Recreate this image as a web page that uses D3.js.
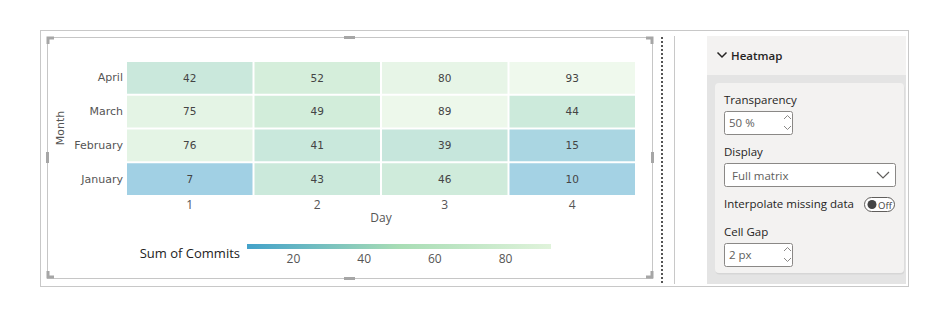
<!DOCTYPE html>
<html>
<head>
<meta charset="utf-8">
<script src="https://cdn.jsdelivr.net/npm/d3@7"></script>
<style>
  html, body { margin: 0; padding: 0; background: #ffffff; }
  svg { display: block; }
  .ui { font-family: "Segoe UI", "Open Sans", sans-serif; }
</style>
</head>
<body>
<svg id="chart" width="952" height="321"></svg>
<script>
// ---------- data ----------
const days = [1, 2, 3, 4];
const months = ["April", "March", "February", "January"]; // top to bottom
// commits per month, one value per day
const januaryCommits  = [7, 43, 46, 10];
const februaryCommits = [76, 41, 39, 15];
const marchCommits    = [75, 49, 89, 44];
const aprilCommits    = [42, 52, 80, 93];
const commitsByMonth = { January: januaryCommits, February: februaryCommits, March: marchCommits, April: aprilCommits };
const legendTicks = [20, 40, 60, 80];
const colorStops = ["#43a2ca", "#a8ddb5", "#e0f3db"];
const legendTitle = "Sum of Commits";
const xTitle = "Day";
const yTitle = "Month";

const cells = [];
months.forEach(m => days.forEach((d, i) => cells.push({ month: m, day: d, value: commitsByMonth[m][i] })));

const svg = d3.select("#chart");
const uiFont = '"Segoe UI", "Open Sans", sans-serif';
const vFont = '"DejaVu Sans", Verdana, sans-serif';

// ---------- report frame ----------
svg.append("rect").attr("x", 40.5).attr("y", 30.5).attr("width", 868).attr("height", 256)
  .attr("fill", "#fff").attr("stroke", "#c8c8c8").attr("stroke-width", 1);

// visual frame
svg.append("rect").attr("x", 47.5).attr("y", 37.5).attr("width", 605).attr("height", 241)
  .attr("fill", "none").attr("stroke", "#c6c6c6").attr("stroke-width", 1);
const handle = "#a6a6a6";
function corner(x, y, sx, sy) {
  svg.append("path")
    .attr("d", `M${x},${y + sy * 6} L${x},${y} L${x + sx * 6},${y}`)
    .attr("fill", "none").attr("stroke", handle).attr("stroke-width", 3);
}
corner(48, 38, 1, 1);
corner(652, 38, -1, 1);
corner(48, 277, 1, -1);
corner(652, 277, -1, -1);
svg.append("rect").attr("x", 344).attr("y", 36).attr("width", 11).attr("height", 3).attr("fill", handle);
svg.append("rect").attr("x", 344).attr("y", 277).attr("width", 11).attr("height", 3).attr("fill", handle);
svg.append("rect").attr("x", 46).attr("y", 152).attr("width", 3).attr("height", 11).attr("fill", handle);
svg.append("rect").attr("x", 651).attr("y", 152).attr("width", 3).attr("height", 11).attr("fill", handle);

// dotted divider and solid divider
svg.append("line").attr("x1", 662).attr("x2", 662).attr("y1", 37).attr("y2", 283)
  .attr("stroke", "#555").attr("stroke-width", 2).attr("stroke-dasharray", "2,2");
svg.append("line").attr("x1", 674.5).attr("x2", 674.5).attr("y1", 36).attr("y2", 284)
  .attr("stroke", "#c8c8c8").attr("stroke-width", 1);

// ---------- heatmap ----------
const x = d3.scaleBand().domain(days).range([126, 636]);
const y = d3.scaleBand().domain(months).range([61, 196]);
const ext = d3.extent(cells, c => c.value);
const color = d3.scaleLinear().domain([ext[0], (ext[0] + ext[1]) / 2, ext[1]]).range(colorStops);

const g = svg.append("g");
g.selectAll("rect.cell").data(cells).join("rect").attr("class", "cell")
  .attr("x", c => x(c.day) + 1).attr("y", c => y(c.month) + 1)
  .attr("width", x.bandwidth() - 2).attr("height", y.bandwidth() - 2)
  .attr("fill", c => color(c.value)).attr("fill-opacity", 0.5);

g.selectAll("text.val").data(cells).join("text").attr("class", "val")
  .attr("x", c => x(c.day) + x.bandwidth() / 2)
  .attr("y", c => y(c.month) + y.bandwidth() / 2)
  .attr("dy", "0.35em").attr("text-anchor", "middle")
  .attr("font-family", vFont).attr("font-size", 10.5)
  .attr("fill", "#444").text(c => c.value);

// y axis labels
const yAxis = svg.append("g").attr("transform", "translate(126,0)")
  .call(d3.axisLeft(y).tickSize(0).tickPadding(3));
yAxis.select(".domain").remove();
yAxis.selectAll("text").attr("font-family", vFont).attr("font-size", 11).attr("fill", "#555");

// x axis labels
const xAxis = svg.append("g").attr("transform", "translate(0,196)")
  .call(d3.axisBottom(x).tickSize(0).tickPadding(4));
xAxis.select(".domain").remove();
xAxis.selectAll("text").attr("font-family", uiFont).attr("font-size", 12).attr("fill", "#555");

svg.append("text").attr("x", 381).attr("y", 222).attr("text-anchor", "middle")
  .attr("font-family", uiFont).attr("font-size", 12).attr("fill", "#555").text(xTitle);
svg.append("text").attr("transform", "translate(64,128) rotate(-90)").attr("text-anchor", "middle")
  .attr("font-family", vFont).attr("font-size", 11).attr("fill", "#555").text(yTitle);

// ---------- legend ----------
const lx = d3.scaleLinear().domain(ext).range([247, 551]);
const defs = svg.append("defs");
const grad = defs.append("linearGradient").attr("id", "lg").attr("x1", "0%").attr("x2", "100%");
colorStops.forEach((c, i) => grad.append("stop").attr("offset", (i / (colorStops.length - 1) * 100) + "%").attr("stop-color", c));
svg.append("rect").attr("x", lx(ext[0])).attr("y", 244).attr("width", lx(ext[1]) - lx(ext[0])).attr("height", 5)
  .attr("fill", "url(#lg)");
const lAxis = svg.append("g").attr("transform", "translate(0,249)")
  .call(d3.axisBottom(lx).tickValues(legendTicks).tickSize(0).tickPadding(5));
lAxis.select(".domain").remove();
lAxis.selectAll("text").attr("font-family", uiFont).attr("font-size", 12).attr("fill", "#555");
svg.append("text").attr("x", 240).attr("y", 253).attr("dy", "0.35em").attr("text-anchor", "end")
  .attr("font-family", uiFont).attr("font-size", 13).attr("fill", "#222").text(legendTitle);

// ---------- format pane ----------
const pane = svg.append("g").attr("class", "ui");
const pf = 11.5;
pane.append("rect").attr("x", 707).attr("y", 36).attr("width", 199).attr("height", 248).attr("fill", "#e4e4e4");
pane.append("rect").attr("x", 707).attr("y", 36).attr("width", 199).attr("height", 39).attr("fill", "#f3f2f1");
pane.append("path").attr("d", "M717.5,52.5 L722,57 L726.5,52.5").attr("fill", "none").attr("stroke", "#252423").attr("stroke-width", 1.5);
pane.append("text").attr("x", 731).attr("y", 60).attr("font-family", uiFont).attr("font-size", pf)
  .attr("font-weight", 600).attr("fill", "#252423").text("Heatmap");

// card
pane.append("rect").attr("x", 715.5).attr("y", 84.5).attr("width", 189).attr("height", 190).attr("rx", 4)
  .attr("fill", "#d6d6d6");
pane.append("rect").attr("x", 715).attr("y", 83).attr("width", 189).attr("height", 190).attr("rx", 4)
  .attr("fill", "#f3f2f1");

function label(txt, yy) {
  pane.append("text").attr("x", 724).attr("y", yy).attr("font-family", uiFont).attr("font-size", pf)
    .attr("fill", "#252423").text(txt);
}
function spin(yy, txt) {
  pane.append("rect").attr("x", 724.5).attr("y", yy + 0.5).attr("width", 68).attr("height", 23).attr("rx", 2)
    .attr("fill", "#fff").attr("stroke", "#8a8886");
  pane.append("text").attr("x", 729).attr("y", yy + 16).attr("font-family", uiFont).attr("font-size", pf)
    .attr("fill", "#605e5c").text(txt);
  pane.append("path").attr("d", `M784,${yy + 8} L787.5,${yy + 4.5} L791,${yy + 8}`).attr("fill", "none").attr("stroke", "#8a8886");
  pane.append("path").attr("d", `M784,${yy + 15} L787.5,${yy + 18.5} L791,${yy + 15}`).attr("fill", "none").attr("stroke", "#8a8886");
}
label("Transparency", 104);
spin(111, "50 %");
label("Display", 156);
pane.append("rect").attr("x", 724.5).attr("y", 163.5).attr("width", 171).attr("height", 23).attr("rx", 2)
  .attr("fill", "#fff").attr("stroke", "#8a8886");
pane.append("text").attr("x", 732).attr("y", 180).attr("font-family", uiFont).attr("font-size", pf)
  .attr("fill", "#605e5c").text("Full matrix");
pane.append("path").attr("d", "M877,172 L883,178 L889,172").attr("fill", "none").attr("stroke", "#605e5c").attr("stroke-width", 1.2);
label("Interpolate missing data", 208);
pane.append("rect").attr("x", 864.5).attr("y", 197.5).attr("width", 30).attr("height", 14).attr("rx", 7)
  .attr("fill", "#fff").attr("stroke", "#605e5c");
pane.append("circle").attr("cx", 872).attr("cy", 204.5).attr("r", 4.5).attr("fill", "#444");
pane.append("text").attr("x", 878).attr("y", 208.5).attr("font-family", uiFont).attr("font-size", 9.5)
  .attr("fill", "#444").text("Off");
label("Cell Gap", 236);
spin(243, "2 px");
</script>
</body>
</html>
